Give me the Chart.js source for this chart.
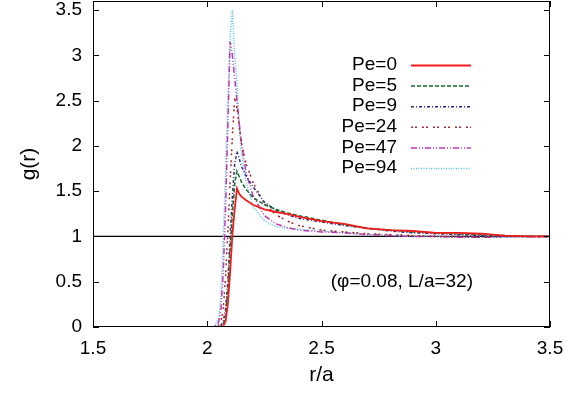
<!DOCTYPE html>
<html>
<head>
<meta charset="utf-8">
<script src="https://cdn.jsdelivr.net/npm/chart.js@4/dist/chart.umd.min.js"></script>
<style>
  html, body { margin: 0; padding: 0; background: #fff; }
  #grafico { display: block; }
</style>
</head>
<body>
<canvas id="grafico" width="585" height="394"></canvas>
<script>
// r/a (eixo x) comum a todas as curvas
var raio = [1.5, 2.0, 2.03, 2.05, 2.06, 2.07, 2.08, 2.09, 2.10, 2.11, 2.12, 2.13, 2.14, 2.15, 2.17,
            2.2, 2.25, 2.3, 2.35, 2.4, 2.5, 2.6, 2.7, 2.8, 2.9, 3.0, 3.1, 3.2, 3.3, 3.4, 3.5];

// g(r) para cada Pe
var gPe0  = [0, 0, 0, 0, 0, 0.01, 0.06, 0.25, 0.6, 1.02, 1.3, 1.53, 1.47, 1.44, 1.40,
             1.35, 1.30, 1.27, 1.25, 1.22, 1.17, 1.14, 1.09, 1.07, 1.06, 1.04, 1.04, 1.03, 1.01, 1.0, 1.0];
var gPe5  = [0, 0, 0, 0, 0, 0.03, 0.12, 0.4, 0.85, 1.25, 1.58, 1.72, 1.66, 1.6, 1.52,
             1.43, 1.35, 1.3, 1.26, 1.23, 1.18, 1.13, 1.09, 1.07, 1.05, 1.04, 1.03, 1.02, 1.01, 1.0, 1.0];
var gPe9  = [0, 0, 0, 0, 0.02, 0.06, 0.2, 0.5, 1.0, 1.45, 1.8, 1.94, 1.86, 1.77, 1.67,
             1.55, 1.38, 1.29, 1.24, 1.2, 1.16, 1.12, 1.09, 1.06, 1.04, 1.03, 1.02, 1.01, 1.0, 1.0, 1.0];
var gPe24 = [0, 0, 0, 0.02, 0.06, 0.2, 0.55, 1.05, 1.6, 2.1, 2.53, 2.42, 2.22, 2.03, 1.8,
             1.6, 1.36, 1.24, 1.17, 1.12, 1.07, 1.05, 1.03, 1.02, 1.01, 1.0, 1.0, 0.99, 1.0, 1.0, 1.0];
var gPe47 = [0, 0, 0, 0.05, 0.2, 0.6, 1.3, 2.2, 3.15, 3.0, 2.75, 2.5, 2.25, 2.02, 1.7,
             1.45, 1.23, 1.14, 1.1, 1.07, 1.05, 1.04, 1.02, 1.01, 1.0, 1.0, 0.99, 0.99, 1.0, 1.0, 1.0];
var gPe94 = [0, 0, 0, 0.1, 0.35, 0.95, 1.7, 2.5, 3.2, 3.5, 3.0, 2.7, 2.2, 1.9, 1.6,
             1.33, 1.17, 1.11, 1.09, 1.08, 1.06, 1.04, 1.02, 1.01, 1.0, 1.0, 0.99, 0.99, 0.99, 1.0, 1.0];

var rotulos = ['Pe=0', 'Pe=5', 'Pe=9', 'Pe=24', 'Pe=47', 'Pe=94'];
var ticksX = [1.5, 2, 2.5, 3, 3.5];
var ticksY = [0, 0.5, 1, 1.5, 2, 2.5, 3, 3.5];
var linhaRef = 1;
var anotacao = '(\u03c6=0.08, L/a=32)';

var cores = ['#f21c1c', '#146c2c', '#2c2c8c', '#a42c2c', '#c236b4', '#4ec6e2'];
var tracos = [[], [4, 2], [3, 2, 1, 2], [2, 2, 2, 5], [6, 2, 1, 2, 1, 2], [1, 1.5]];

function pontos(g) {
    return raio.map(function (r, i) { return { x: r, y: g[i] }; });
}

var series = [gPe0, gPe5, gPe9, gPe24, gPe47, gPe94];
var datasets = series.map(function (g, i) {
    return {
        label: rotulos[i],
        data: pontos(g),
        showLine: true,
        pointRadius: 0,
        borderColor: cores[i],
        backgroundColor: cores[i],
        borderWidth: i == 0 ? 1.8 : 1.5,
        borderDash: tracos[i],
        tension: 0
    };
});

var fonte = '"Liberation Sans", Arial, sans-serif';

// moldura, ticks para dentro, linha g=1, legenda e texto
var extras = {
    id: 'extras',
    beforeDatasetsDraw: function (chart) {
        var ctx = chart.ctx, a = chart.chartArea;
        var y1 = chart.scales.y.getPixelForValue(linhaRef);
        ctx.save();
        ctx.strokeStyle = '#000';
        ctx.lineWidth = 1.2;
        ctx.beginPath();
        ctx.moveTo(a.left, y1);
        ctx.lineTo(a.right, y1);
        ctx.stroke();
        ctx.restore();
    },
    afterDatasetsDraw: function (chart) {
        var ctx = chart.ctx, a = chart.chartArea;
        var sx = chart.scales.x, sy = chart.scales.y;
        ctx.save();
        ctx.strokeStyle = '#000';
        ctx.lineWidth = 1;
        ctx.strokeRect(a.left + 0.5, a.top + 0.5, a.right - a.left - 1, a.bottom - a.top - 1);
        ctx.beginPath();
        ticksX.forEach(function (v) {
            var px = Math.round(sx.getPixelForValue(v)) + 0.5;
            ctx.moveTo(px, a.bottom); ctx.lineTo(px, a.bottom - 6);
            ctx.moveTo(px, a.top); ctx.lineTo(px, a.top + 6);
        });
        ticksY.forEach(function (v) {
            var py = Math.round(sy.getPixelForValue(v)) + 0.5;
            ctx.moveTo(a.left, py); ctx.lineTo(a.left + 6, py);
            ctx.moveTo(a.right, py); ctx.lineTo(a.right - 6, py);
        });
        ctx.stroke();

        // legenda
        ctx.font = '19px ' + fonte;
        ctx.fillStyle = '#000';
        ctx.textAlign = 'right';
        ctx.textBaseline = 'middle';
        chart.data.datasets.forEach(function (ds, i) {
            var y = 65 + i * 20.6;
            ctx.fillText(ds.label, 397, y);
            ctx.strokeStyle = ds.borderColor;
            ctx.lineWidth = ds.borderWidth;
            ctx.setLineDash(ds.borderDash);
            ctx.beginPath();
            ctx.moveTo(411, y + 0.5);
            ctx.lineTo(471, y + 0.5);
            ctx.stroke();
        });
        ctx.setLineDash([]);
        ctx.fillStyle = '#000';
        ctx.fillText(anotacao, 473, 282);
        ctx.restore();
    }
};

var ctx = document.getElementById('grafico').getContext('2d');
var grafico = new Chart(ctx, {
    type: 'scatter',
    data: { datasets: datasets },
    options: {
        responsive: false,
        animation: false,
        layout: { padding: { top: 1, right: 35, left: 0, bottom: 0 } },
        plugins: {
            legend: { display: false },
            tooltip: { enabled: false }
        },
        scales: {
            x: {
                type: 'linear',
                min: 1.5,
                max: 3.5,
                grid: { display: false, drawTicks: false },
                border: { display: false },
                afterBuildTicks: function (s) { s.ticks = ticksX.map(function (v) { return { value: v }; }); },
                afterFit: function (s) { s.height = 67; s.paddingLeft = 0; s.paddingRight = 0; },
                ticks: {
                    color: '#000',
                    font: { family: fonte, size: 19 },
                    padding: 10,
                    maxRotation: 0,
                    callback: function (v) { return String(v); }
                },
                title: {
                    display: true,
                    text: 'r/a',
                    color: '#000',
                    font: { family: fonte, size: 21 },
                    padding: { top: 0, bottom: 6 }
                }
            },
            y: {
                type: 'linear',
                min: 0,
                max: 3.6,
                grid: { display: false, drawTicks: false },
                border: { display: false },
                afterBuildTicks: function (s) { s.ticks = ticksY.map(function (v) { return { value: v }; }); },
                afterFit: function (s) { s.width = 93; s.paddingTop = 0; s.paddingBottom = 0; },
                ticks: {
                    color: '#000',
                    font: { family: fonte, size: 19 },
                    padding: 11,
                    callback: function (v) { return String(v); }
                },
                title: {
                    display: true,
                    text: 'g(r)',
                    color: '#000',
                    font: { family: fonte, size: 21 },
                    padding: { top: 17, bottom: 0 }
                }
            }
        }
    },
    plugins: [extras]
});
</script>
</body>
</html>
